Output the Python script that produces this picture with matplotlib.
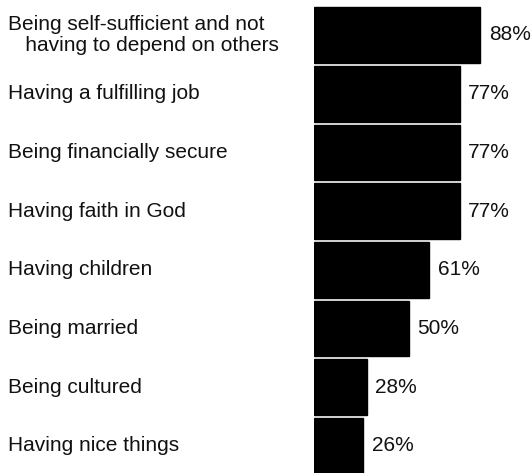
import matplotlib
matplotlib.use("Agg")
import matplotlib.pyplot as plt

categories = [
    "Being self-sufficient and not\n   having to depend on others",
    "Having a fulfilling job",
    "Being financially secure",
    "Having faith in God",
    "Having children",
    "Being married",
    "Being cultured",
    "Having nice things",
]
values = [88, 77, 77, 77, 61, 50, 28, 26]
value_labels = ["88%", "77%", "77%", "77%", "61%", "50%", "28%", "26%"]

plt.rcParams['font.family'] = ['Liberation Sans', 'DejaVu Sans']

W, H = 532, 473
fig = plt.figure(figsize=(W / 100, H / 100), dpi=100)
left_px = 314
ax = fig.add_axes([left_px / W, 0, 1 - left_px / W, 1])
px_per_unit = 1.89
ax.set_xlim(0, (W - left_px) / px_per_unit)
spacing = 58.7
first_center = 35
ax.set_ylim(7 + (H - first_center - 7 * spacing) / spacing, -first_center / spacing)

ypos = list(range(len(categories)))
ax.barh(ypos, values, height=0.95, color='black', edgecolor='black')
for y, v, lab in zip(ypos, values, value_labels):
    ax.text(v + 4.5, y, lab, va='center', ha='left', fontsize=15, color='#111111')
for y, cat in zip(ypos, categories):
    ax.text(8 / W, 1 - (first_center + y * spacing) / H, cat, transform=fig.transFigure,
            va='center', ha='left', fontsize=15, color='#111111', linespacing=1.1)
ax.axis('off')
fig.savefig("out.png", dpi=100)
